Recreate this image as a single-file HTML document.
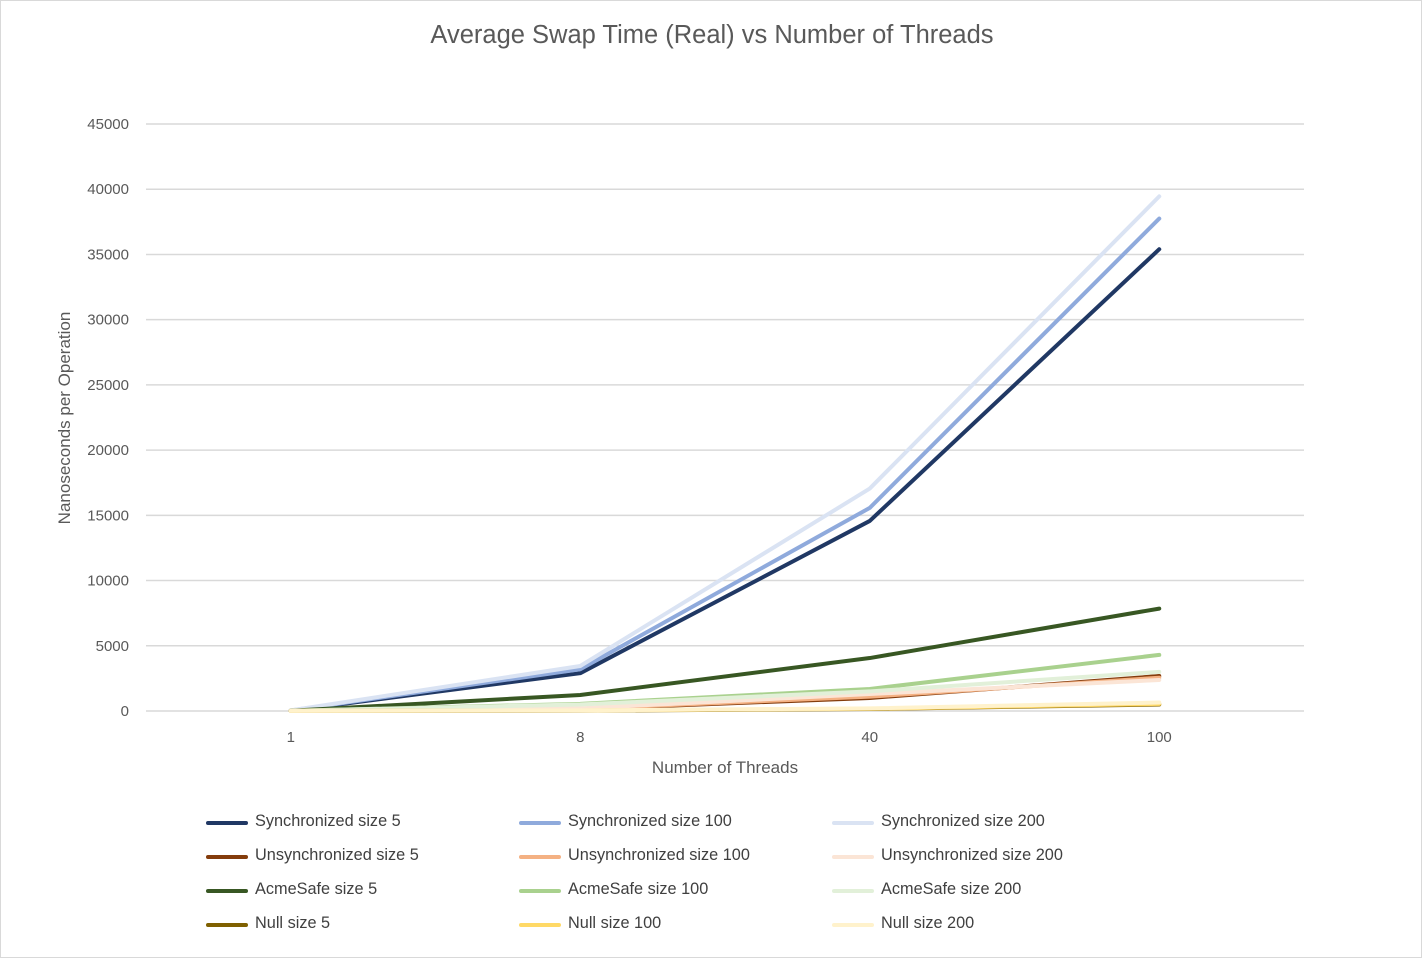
<!DOCTYPE html>
<html><head><meta charset="utf-8"><style>
body{margin:0;background:#fff;font-family:"Liberation Sans",sans-serif;}
#wrap{position:relative;width:1422px;height:958px;box-sizing:border-box;border:1px solid #d9d9d9;background:#fff;}
.title{position:absolute;top:20px;left:0;width:1422px;text-align:center;font-size:25.5px;color:#595959;}
.leg{position:absolute;font-size:16.3px;color:#404040;}
.leg span.sw{position:absolute;left:0;top:9px;width:42px;height:4px;border-radius:2px;}
.leg span.t{position:absolute;left:49px;top:0;white-space:nowrap;}
</style></head><body>
<div id="wrap">
<div class="title">Average Swap Time (Real) vs Number of Threads</div>
<svg id="svg" width="1422" height="958" style="position:absolute;left:0;top:0"></svg>
<div id="legend"></div>
</div>
<script>
const categories=["1","8","40","100"];
const seriesNames=["Synchronized size 5","Synchronized size 100","Synchronized size 200","Unsynchronized size 5","Unsynchronized size 100","Unsynchronized size 200","AcmeSafe size 5","AcmeSafe size 100","AcmeSafe size 200","Null size 5","Null size 100","Null size 200"];
const sync5=[30,2900,14570,35400];
const sync100=[40,3200,15570,37750];
const sync200=[50,3450,17050,39450];
const unsync5=[10,150,1000,2680];
const unsync100=[10,170,1100,2550];
const unsync200=[10,200,1300,2380];
const acme5=[20,1230,4060,7850];
const acme100=[15,550,1690,4300];
const acme200=[15,500,1500,3000];
const null5=[5,30,150,500];
const null100=[5,40,170,550];
const null200=[5,50,200,650];
const yTicks=[0,5000,10000,15000,20000,25000,30000,35000,40000,45000];
const colors=["#203864","#8faadc","#dae3f3","#843c0c","#f4b183","#fbe5d6","#385723","#a9d18e","#e2f0d9","#7f6000","#ffd966","#fff2cc"];
const series=[sync5,sync100,sync200,unsync5,unsync100,unsync200,acme5,acme100,acme200,null5,null100,null200];
const NS="http://www.w3.org/2000/svg";
const svg=document.getElementById('svg');
const y0=710,yTop=123,x0=145,x1=1303;
function yS(v){return y0-(v/45000)*(y0-yTop);}
function xS(i){return x0+(x1-x0)/categories.length*(i+0.5);}
function mk(tag,attrs){const e=document.createElementNS(NS,tag);for(const k in attrs)e.setAttribute(k,attrs[k]);svg.appendChild(e);return e;}
yTicks.forEach(t=>{
 const l=mk('line',{x1:x0,x2:x1,y1:yS(t),y2:yS(t),stroke:'#d9d9d9','stroke-width':1.5});
 
 
 const tx=mk('text',{x:128,y:yS(t)+5,'text-anchor':'end','font-size':15,fill:'#595959','font-family':'Liberation Sans, sans-serif'});
 tx.textContent=t;
 
 
});
categories.forEach((c,i)=>{
 const tx=mk('text',{x:xS(i),y:741,'text-anchor':'middle','font-size':15,fill:'#595959','font-family':'Liberation Sans, sans-serif'});
 tx.textContent=c;
 
 
});
let xt=mk('text',{x:724,y:772,'text-anchor':'middle','font-size':17,fill:'#595959','font-family':'Liberation Sans, sans-serif'});
xt.textContent='Number of Threads';


let yt=mk('text',{x:0,y:0,'text-anchor':'middle','font-size':17,fill:'#595959','font-family':'Liberation Sans, sans-serif',transform:'translate(69,417) rotate(-90)'});
yt.textContent='Nanoseconds per Operation';


series.forEach((ser,s)=>{
 const pts=ser.map((v,i)=>xS(i)+','+yS(v)).join(' ');
 const p=mk('polyline',{points:pts,fill:'none',stroke:colors[s],'stroke-width':4,'stroke-linejoin':'round','stroke-linecap':'round'});
 
 
});
const leg=document.getElementById('legend');
const cols=[205,518,831];
seriesNames.forEach((n,i)=>{
 const d=document.createElement('div');
 d.className='leg';
 d.style.left=cols[i%3]+'px';
 d.style.top=(811+Math.floor(i/3)*34)+'px';
 d.innerHTML='<span class="sw" style="background:'+colors[i]+'"></span><span class="t">'+n+'</span>';
 
 
 leg.appendChild(d);
});
</script>
</body></html>
